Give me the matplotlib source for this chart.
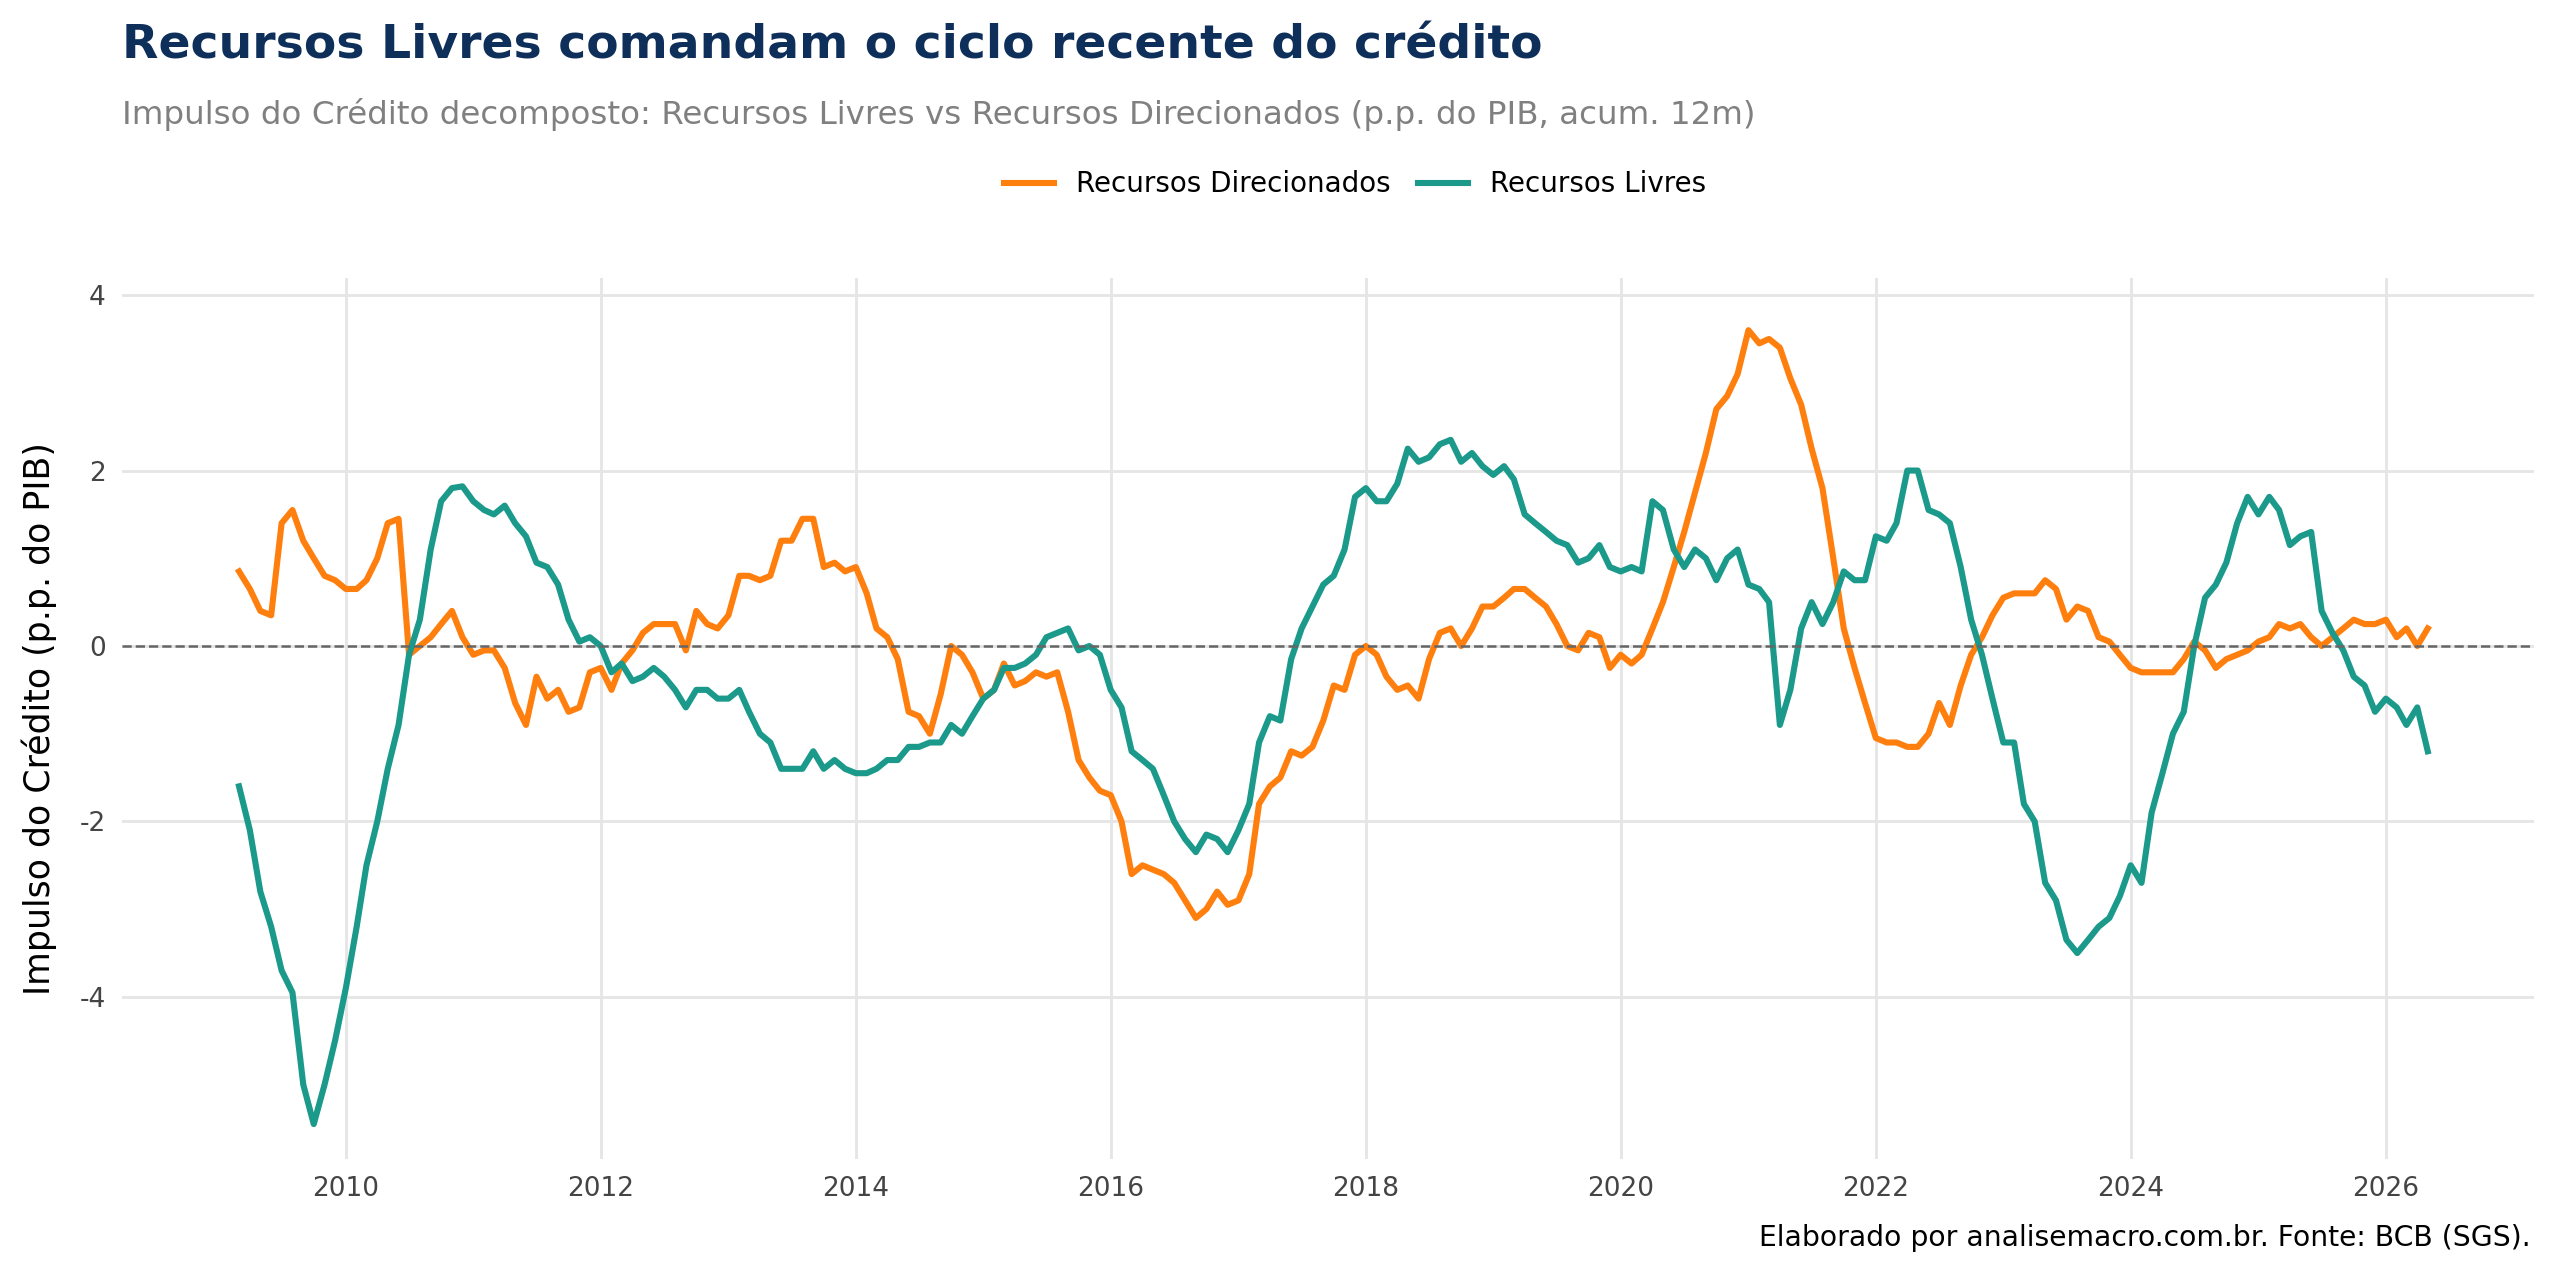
import matplotlib
matplotlib.use("Agg")
import matplotlib.pyplot as plt
import pandas as pd

plt.rcParams["axes.unicode_minus"] = False

start = "2009-03-01"
livres = [
 -1.6,-2.1,-2.8,-3.2,-3.7,-3.95,-5.0,-5.45,-5.0,-4.5,
 -3.9,-3.2,-2.5,-2.0,-1.4,-0.9,-0.1,0.3,1.1,1.65,1.8,1.82,
 1.65,1.55,1.5,1.6,1.4,1.25,0.95,0.9,0.7,0.3,0.05,0.1,
 0.0,-0.3,-0.2,-0.4,-0.35,-0.25,-0.35,-0.5,-0.7,-0.5,-0.5,-0.6,
 -0.6,-0.5,-0.75,-1.0,-1.1,-1.4,-1.4,-1.4,-1.2,-1.4,-1.3,-1.4,
 -1.45,-1.45,-1.4,-1.3,-1.3,-1.15,-1.15,-1.1,-1.1,-0.9,-1.0,-0.8,
 -0.6,-0.5,-0.25,-0.25,-0.2,-0.1,0.1,0.15,0.2,-0.05,0.0,-0.1,
 -0.5,-0.7,-1.2,-1.3,-1.4,-1.7,-2.0,-2.2,-2.35,-2.15,-2.2,-2.35,
 -2.1,-1.8,-1.1,-0.8,-0.85,-0.15,0.2,0.45,0.7,0.8,1.1,1.7,
 1.8,1.65,1.65,1.85,2.25,2.1,2.15,2.3,2.35,2.1,2.2,2.05,
 1.95,2.05,1.9,1.5,1.4,1.3,1.2,1.15,0.95,1.0,1.15,0.9,
 0.85,0.9,0.85,1.65,1.55,1.1,0.9,1.1,1.0,0.75,1.0,1.1,
 0.7,0.65,0.5,-0.9,-0.5,0.2,0.5,0.25,0.5,0.85,0.75,0.75,
 1.25,1.2,1.4,2.0,2.0,1.55,1.5,1.4,0.9,0.3,-0.1,-0.6,
 -1.1,-1.1,-1.8,-2.0,-2.7,-2.9,-3.35,-3.5,-3.35,-3.2,-3.1,-2.85,
 -2.5,-2.7,-1.9,-1.45,-1.0,-0.75,0.0,0.55,0.7,0.95,1.4,1.7,
 1.5,1.7,1.55,1.15,1.25,1.3,0.4,0.15,-0.05,-0.35,-0.45,-0.75,
 -0.6,-0.7,-0.9,-0.7,-1.2]
direcionados = [
 0.85,0.65,0.4,0.35,1.4,1.55,1.2,1.0,0.8,0.75,
 0.65,0.65,0.75,1.0,1.4,1.45,-0.1,0.0,0.1,0.25,0.4,0.1,
 -0.1,-0.05,-0.05,-0.25,-0.65,-0.9,-0.35,-0.6,-0.5,-0.75,-0.7,-0.3,
 -0.25,-0.5,-0.2,-0.05,0.15,0.25,0.25,0.25,-0.05,0.4,0.25,0.2,
 0.35,0.8,0.8,0.75,0.8,1.2,1.2,1.45,1.45,0.9,0.95,0.85,
 0.9,0.6,0.2,0.1,-0.15,-0.75,-0.8,-1.0,-0.55,0.0,-0.1,-0.3,
 -0.6,-0.5,-0.2,-0.45,-0.4,-0.3,-0.35,-0.3,-0.75,-1.3,-1.5,-1.65,
 -1.7,-2.0,-2.6,-2.5,-2.55,-2.6,-2.7,-2.9,-3.1,-3.0,-2.8,-2.95,
 -2.9,-2.6,-1.8,-1.6,-1.5,-1.2,-1.25,-1.15,-0.85,-0.45,-0.5,-0.1,
 0.0,-0.1,-0.35,-0.5,-0.45,-0.6,-0.15,0.15,0.2,0.0,0.2,0.45,
 0.45,0.55,0.65,0.65,0.55,0.45,0.25,0.0,-0.05,0.15,0.1,-0.25,
 -0.1,-0.2,-0.1,0.2,0.5,0.9,1.3,1.75,2.2,2.7,2.85,3.1,
 3.6,3.45,3.5,3.4,3.05,2.75,2.25,1.8,1.0,0.2,-0.25,-0.65,
 -1.05,-1.1,-1.1,-1.15,-1.15,-1.0,-0.65,-0.9,-0.45,-0.1,0.1,0.35,
 0.55,0.6,0.6,0.6,0.75,0.65,0.3,0.45,0.4,0.1,0.05,-0.1,
 -0.25,-0.3,-0.3,-0.3,-0.3,-0.15,0.05,-0.05,-0.25,-0.15,-0.1,-0.05,
 0.05,0.1,0.25,0.2,0.25,0.1,0.0,0.1,0.2,0.3,0.25,0.25,
 0.3,0.1,0.2,0.0,0.2]

dates = pd.date_range(start, periods=len(livres), freq="MS")
dates_d = pd.date_range(start, periods=len(direcionados), freq="MS")

W, H = 1568, 784
fig = plt.figure(figsize=(12.8, 6.4), dpi=200)
ax = fig.add_axes([75/W, (H-710)/H, (1552-75)/W, (710-170)/H])

ax.plot(dates_d, direcionados, color="#FF7F0E", lw=2.2, label="Recursos Direcionados")
ax.plot(dates, livres, color="#1B998B", lw=2.2, label="Recursos Livres")
ax.axhline(0, color="#666666", lw=0.9, ls="--")

ax.set_xlim(pd.Timestamp("2008-04-01"), pd.Timestamp("2027-03-01"))
ax.set_ylim(-5.85, 4.2)
ax.set_yticks([-4, -2, 0, 2, 4])
ax.set_xticks([pd.Timestamp(f"{y}-01-01") for y in range(2010, 2027, 2)])
ax.set_xticklabels([str(y) for y in range(2010, 2027, 2)])
ax.grid(True, color="#E5E5E5", lw=1)
ax.set_axisbelow(True)
for s in ax.spines.values():
    s.set_visible(False)
ax.tick_params(length=0, labelsize=9.5, colors="#444444", pad=6)
ax.set_ylabel("Impulso do Crédito (p.p. do PIB)", fontsize=12.5, labelpad=8)

fig.text(75/W, 1 - 28/H, "Recursos Livres comandam o ciclo recente do crédito",
         fontsize=17, fontweight="bold", color="#0D2F5A", va="center")
fig.text(75/W, 1 - 70/H,
         "Impulso do Crédito decomposto: Recursos Livres vs Recursos Direcionados (p.p. do PIB, acum. 12m)",
         fontsize=11.7, color="#808080", va="center")
fig.legend(loc="center", bbox_to_anchor=(830/W, 1 - 113/H), ncol=2, frameon=False,
           fontsize=10, handlelength=1.8, columnspacing=1.0)
fig.text(1550/W, 1 - 758/H, "Elaborado por analisemacro.com.br. Fonte: BCB (SGS).",
         fontsize=10.2, ha="right", va="center")
fig.savefig("out.png", dpi=200, facecolor="white")
